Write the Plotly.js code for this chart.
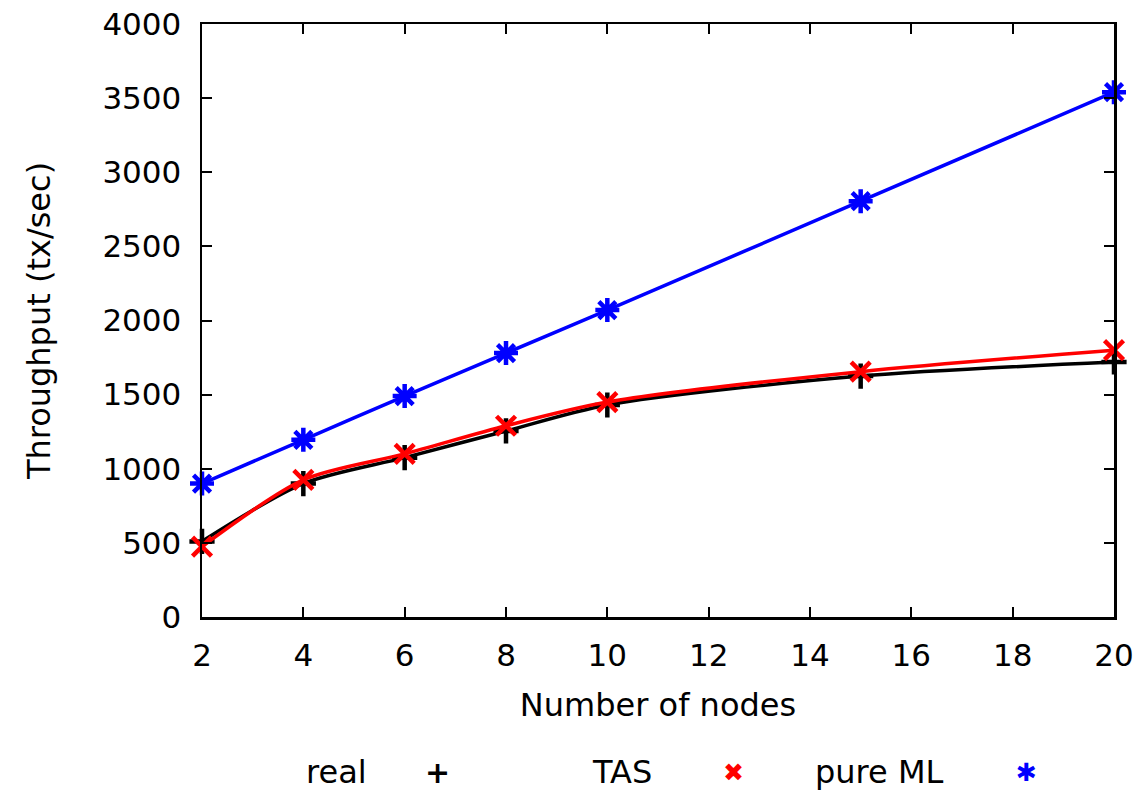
<!DOCTYPE html>
<html>
<head>
<meta charset="utf-8">
<script src="https://cdn.plot.ly/plotly-3.0.1.min.js"></script>
<style>html,body{margin:0;padding:0;background:#fff;}#chart{width:1142px;height:793px;}</style>
</head>
<body>
<div id="chart"></div>
<script>
const nodes = [2, 4, 6, 8, 10, 15, 20];
const realThroughput = [510, 900, 1075, 1255, 1430, 1625, 1720];
const tasThroughput = [475, 925, 1100, 1290, 1450, 1655, 1800];
const pureMLThroughput = [900, 1195, 1490, 1780, 2070, 2805, 3540];
const seriesNames = ["real", "TAS", "pure ML"];
const seriesColors = ["#000000", "#ff0000", "#0000ff"];
const legendGlyphs = ["+", "✖", "✱"];

const font = "DejaVu Sans, Liberation Sans, Arial, sans-serif";

function tr(y, name, color, symbol, size) {
  return {
    x: nodes, y: y, name: name, type: "scatter", mode: "lines+markers",
    cliponaxis: false,
    line: {color: color, width: 3.5, shape: "spline", smoothing: 0.8},
    marker: {symbol: symbol, size: size, color: color, line: {color: color, width: 4.5}},
    showlegend: false
  };
}

const data = [
  tr(realThroughput, seriesNames[0], seriesColors[0], "cross-thin", 18),
  tr(tasThroughput, seriesNames[1], seriesColors[1], "x-thin", 19),
  tr(pureMLThroughput, seriesNames[2], seriesColors[2], "asterisk-open", 20)
];

const legendTextX = [336, 622, 879];
const legendSymX = [437, 733, 1026];
const annotations = [];
for (let i = 0; i < 3; i++) {
  annotations.push({xref: "paper", yref: "paper", x: (legendTextX[i] - 202) / 912, y: -0.262,
    text: seriesNames[i], showarrow: false, xanchor: "center", yanchor: "middle",
    font: {family: font, size: 32, color: "#000"}});
  annotations.push({xref: "paper", yref: "paper", x: (legendSymX[i] - 202) / 912, y: -0.262,
    text: "<b>" + legendGlyphs[i] + "</b>", showarrow: false, xanchor: "center", yanchor: "middle",
    font: {family: "DejaVu Sans, sans-serif", size: i === 0 ? 30 : 25, color: seriesColors[i]}});
}

const layout = {
  width: 1142, height: 793,
  margin: {l: 202, r: 28, t: 24, b: 176},
  paper_bgcolor: "#fff", plot_bgcolor: "#fff",
  font: {family: font, size: 32, color: "#000"},
  showlegend: false,
  xaxis: {
    range: [2, 20], tickmode: "array", tickvals: [2,4,6,8,10,12,14,16,18,20],
    ticks: "inside", ticklen: 10, tickwidth: 2, tickcolor: "#000",
    showline: true, linewidth: 2.5, linecolor: "#000", mirror: "allticks",
    showgrid: false, zeroline: false, ticklabelstandoff: 9,
    tickfont: {family: font, size: 31},
    title: {text: "Number of nodes", font: {family: font, size: 32}, standoff: 22}
  },
  yaxis: {
    range: [0, 4000], tickmode: "array", tickvals: [0,500,1000,1500,2000,2500,3000,3500,4000],
    ticks: "inside", ticklen: 10, tickwidth: 2, tickcolor: "#000",
    showline: true, linewidth: 2.5, linecolor: "#000", mirror: "allticks",
    showgrid: false, zeroline: false, ticklabelstandoff: 12,
    tickfont: {family: font, size: 31},
    title: {text: "Throughput (tx/sec)", font: {family: font, size: 32}, standoff: 42}
  },
  annotations: annotations
};

Plotly.newPlot("chart", data, layout, {displayModeBar: false, staticPlot: true});
</script>
</body>
</html>
